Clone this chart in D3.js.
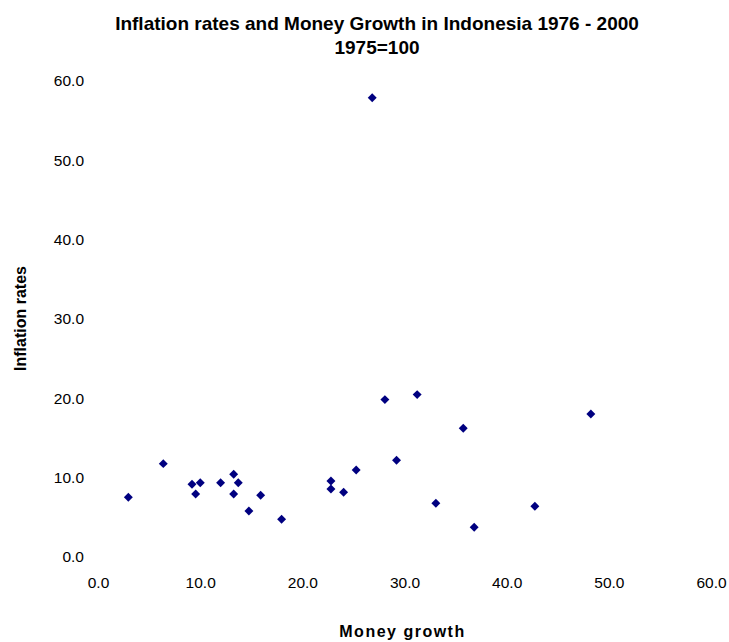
<!DOCTYPE html>
<html><head><meta charset="utf-8">
<script src="https://cdn.jsdelivr.net/npm/d3@7"></script>
<style>body{margin:0;background:#fff;} svg{display:block;font-family:"Liberation Sans",Arial,sans-serif;}</style>
</head><body>
<script>
const moneyGrowth = [2.97, 6.39, 9.20, 10.01, 9.56, 12.0, 13.28, 13.73, 13.28, 14.77, 15.92, 17.97, 22.8, 22.8, 24.04, 25.27, 28.08, 31.24, 35.75, 48.24, 29.22, 33.07, 36.82, 42.76, 26.84];
const inflation   = [7.53, 11.77, 9.17, 9.37, 7.94, 9.37, 10.43, 9.37, 7.94, 5.80, 7.78, 4.75, 9.58, 8.57, 8.16, 10.97, 19.84, 20.47, 16.23, 18.03, 12.19, 6.77, 3.75, 6.39, 57.88];
const xTicks = [0, 10, 20, 30, 40, 50, 60];
const yTicks = [0, 10, 20, 30, 40, 50, 60];
const titleLines = ["Inflation rates and Money Growth in Indonesia 1976 - 2000", "1975=100"];
const xTitle = "Money growth";
const yTitle = "Inflation rates";

const W = 729, H = 642;
const FONT = "Liberation Sans, Arial, sans-serif";
const svg = d3.select("body").append("svg").attr("width", W).attr("height", H);
const x = d3.scaleLinear().domain([0, 60]).range([98, 711]);
const y = d3.scaleLinear().domain([0, 60]).range([557, 81]);

const xAxis = svg.append("g").attr("transform", "translate(0,557)")
  .call(d3.axisBottom(x).tickValues(xTicks).tickFormat(d3.format(".1f")).tickSize(0).tickPadding(20));
xAxis.select(".domain").remove();
xAxis.selectAll("text").attr("font-size", 15.5).attr("fill", "#000").attr("font-family", FONT);

const yAxis = svg.append("g").attr("transform", "translate(98,0)")
  .call(d3.axisLeft(y).tickValues(yTicks).tickFormat(d3.format(".1f")).tickSize(0).tickPadding(14));
yAxis.select(".domain").remove();
yAxis.selectAll("text").attr("font-size", 15.5).attr("fill", "#000").attr("font-family", FONT);

const sym = d3.symbol().type(d3.symbolSquare).size(40);
svg.append("g").selectAll("path").data(moneyGrowth.map((m, i) => [m, inflation[i]]))
  .join("path")
  .attr("transform", d => `translate(${x(d[0])},${y(d[1])}) rotate(45)`)
  .attr("d", sym)
  .attr("fill", "#000080");

svg.append("g").selectAll("text").data(titleLines).join("text")
  .attr("x", 377).attr("y", (d, i) => 30 + i * 24)
  .attr("text-anchor", "middle").attr("font-weight", "bold").attr("font-size", 19)
  .text(d => d);

svg.append("text").attr("x", 402.5).attr("y", 636.5).attr("text-anchor", "middle")
  .attr("font-weight", "bold").attr("font-size", 16).attr("letter-spacing", 1.5).text(xTitle);

svg.append("text").attr("transform", "translate(25.5,318.5) rotate(-90)").attr("text-anchor", "middle")
  .attr("font-weight", "bold").attr("font-size", 16).text(yTitle);
</script>
</body></html>
